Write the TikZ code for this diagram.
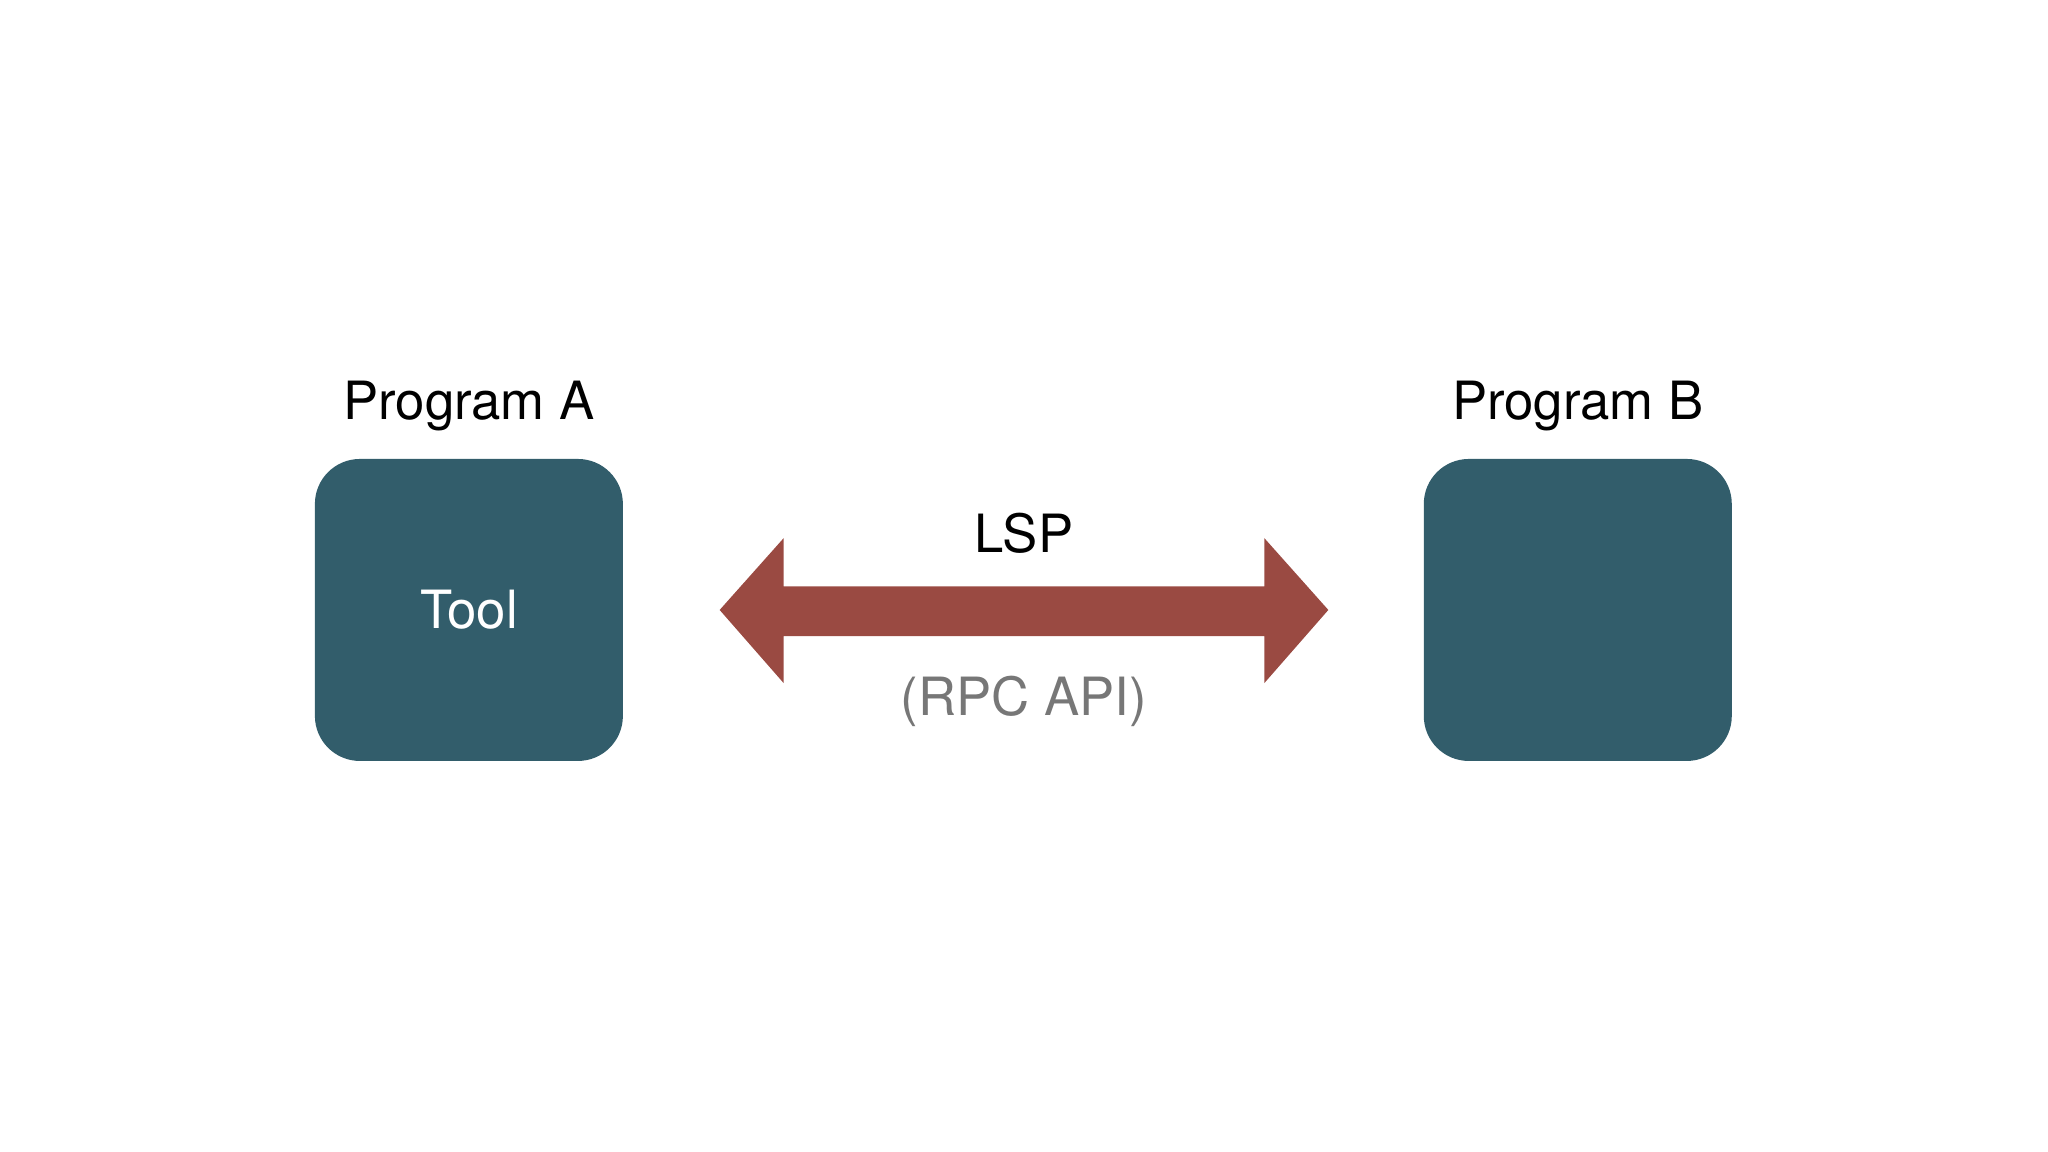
\documentclass[tikz,border=0pt]{standalone}
\usepackage{fontspec}
\setmainfont{TeX Gyre Heros}
\usetikzlibrary{positioning}
\definecolor{boxteal}{HTML}{325D6B}
\definecolor{arrowred}{HTML}{9A4A42}
\definecolor{apigray}{HTML}{777777}
\begin{document}
\begin{tikzpicture}[
      x=0.01306cm, y=-0.01306cm,
      prog/.style={
        rectangle,
        fill=boxteal,
        rounded corners=0.45cm,
        minimum width=3.08cm,
        minimum height=3.02cm,
        text=white,
        font=\fontsize{15}{18}\selectfont
      },
      title/.style={font=\fontsize{15}{18}\selectfont}
    ]
    \useasboundingbox (0,0) rectangle (1568,882);
    \node[prog] (progA) at (359,467) {Tool};
    \node[prog] (progB) at (1208,467) {};
    \node[title, above=0.15cm of progA] (titleA) {Program A};
    \node[title, above=0.15cm of progB] (titleB) {Program B};
    % double arrow between the programs
    \coordinate (tipL) at (551,467);
    \coordinate (tipR) at (1017,467);
    \fill[arrowred] (tipL) -- (600,412) -- (600,449) -- (968,449) -- (968,412)
      -- (tipR) -- (968,523) -- (968,487) -- (600,487) -- (600,523) -- cycle;
    \node[title] (lsp) at (784,408) {LSP};
    \node[title, text=apigray] (rpc) at (784,537) {(RPC API)};
  \end{tikzpicture}
\end{document}
